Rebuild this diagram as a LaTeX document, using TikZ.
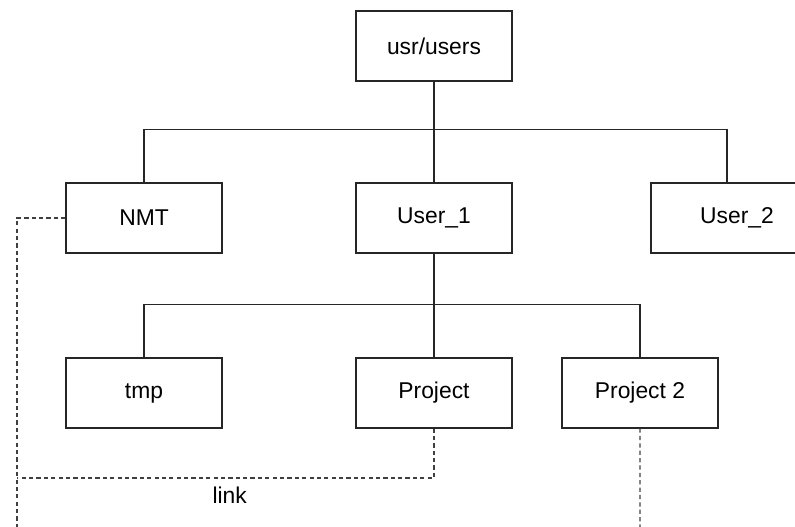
\documentclass[tikz,border=0pt]{standalone}
\usepackage{fontspec}
\setmainfont{Liberation Sans}
\usepackage{tikz}
\usetikzlibrary{positioning}
\tikzstyle{folder} = [rectangle, minimum width=3.12cm, minimum height=1.4cm, text centered, draw=black!85, line width=0.6pt, font=\fontsize{13}{15}\selectfont]
\tikzstyle{branch} = [line width=0.6pt, draw=black!85]
\tikzstyle{symlink} = [line width=0.6pt, draw=black!75, dash pattern=on 2.4pt off 1.8pt]

\begin{document}
\begin{tikzpicture}[node distance=3.44cm]
            \useasboundingbox (0,0) rectangle (15.9,-10.54);
            \node (users) [folder] at (8.68,-0.92) {usr/users};
            \node (user1) [folder, below of=users] {User\_1};
            \node (nmt) [folder, below of=users, xshift=-5.8cm] {NMT};
            \node (user2) [folder, below of=users, xshift=6.06cm, minimum width=3.44cm] {User\_2};
            \node (project) [folder, below of=user1, node distance=3.5cm] {Project};
            \node (tmp) [folder, below of=user1, node distance=3.5cm, xshift=-5.8cm] {tmp};
            \node (project2) [folder, below of=user1, node distance=3.5cm, xshift=4.12cm] {Project 2};
            \coordinate (nmtend) at (0.34,-10.54);
            \coordinate (corner) at (0.34,-9.56);
            \coordinate (p2end) at (12.8,-10.54);

            % tree
            \draw [branch] (users) -- (user1);
            \draw [branch] (nmt.north) -- ++(0,1.06) -| ([xshift=-0.2cm]user2.north);
            \draw [branch] (user1) -- (project);
            \draw [branch] (tmp.north) -- ++(0,1.06) -| (project2.north);

            % links
            \draw [symlink] (nmt.west) -| (nmtend);
            \draw [symlink] (project.south) |- node[anchor=north, pos=0.745, yshift=-1.5pt, font=\fontsize{13}{15}\selectfont]{link} (corner);
            \draw [symlink] (project2.south) -- (p2end);
\end{tikzpicture}
\end{document}
